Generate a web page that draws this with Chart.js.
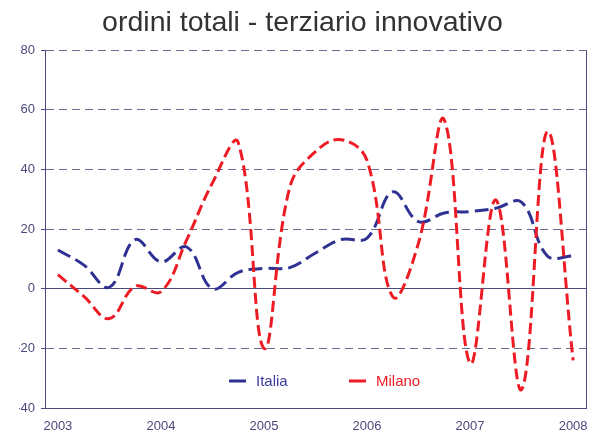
<!DOCTYPE html>
<html>
<head>
  <title>ordini totali - terziario innovativo</title>
  <meta charset="utf-8">
  <script src="https://cdn.jsdelivr.net/npm/chart.js"></script>
  <style>
    body { margin: 0; background: #fff; }
    #wrap { width: 601px; height: 432px; }
  </style>
</head>
<body>
  <div id="wrap"><canvas id="myChart" width="601" height="432"></canvas></div>
  <script>
    // quarterly data, 2003 T1 .. 2008 T1
    var quarters = [
      '2003 T1', '2003 T2', '2003 T3', '2003 T4',
      '2004 T1', '2004 T2', '2004 T3', '2004 T4',
      '2005 T1', '2005 T2', '2005 T3', '2005 T4',
      '2006 T1', '2006 T2', '2006 T3', '2006 T4',
      '2007 T1', '2007 T2', '2007 T3', '2007 T4',
      '2008 T1'
    ];
    var yearLabels = ['2003', '2004', '2005', '2006', '2007', '2008'];
    var italia = [13, 8, 0.5, 16.5, 9, 14, 0, 5.5, 6.8, 7.1, 12, 16.5, 17, 32.5, 22.5, 25.4, 25.9, 27, 29, 11, 11];
    var milano = [4.7, -2.5, -10, 0.8, -1, 16.4, 35.5, 49, -20, 34, 46, 50, 43, -2.7, 15.4, 56.6, -25, 29.8, -33.8, 52.7, -24];

    var axisColor = '#4b4a7c';
    var fontFam = '"Liberation Sans", Arial, Helvetica, sans-serif';

    // legend drawn inside the plot, near the bottom
    var legendInside = {
      id: 'legendInside',
      afterDatasetsDraw: function(chart) {
        var c = chart.ctx;
        var items = [{ ds: chart.data.datasets[0], x: 229 }, { ds: chart.data.datasets[1], x: 349 }];
        c.save();
        c.font = '15px ' + fontFam;
        c.textBaseline = 'middle';
        items.forEach(function(it) {
          c.strokeStyle = it.ds.borderColor;
          c.lineWidth = 3;
          c.setLineDash([]);
          c.beginPath();
          c.moveTo(it.x, 381);
          c.lineTo(it.x + 17, 381);
          c.stroke();
          c.fillStyle = it.ds.legendText;
          c.fillText(it.ds.label, it.x + 27, 382);
        });
        c.restore();
      }
    };

    // right border of the plot
    var rightBorder = {
      id: 'rightBorder',
      afterDraw: function(chart) {
        var a = chart.chartArea, c = chart.ctx;
        c.save();
        c.strokeStyle = axisColor;
        c.lineWidth = 1;
        c.beginPath();
        c.moveTo(a.right + 0.5, a.top);
        c.lineTo(a.right + 0.5, a.bottom);
        c.stroke();
        c.restore();
      }
    };

    var ctx = document.getElementById('myChart');
    var chart = new Chart(ctx, {
      type: 'line',
      data: {
        labels: quarters,
        datasets: [{
          label: 'Italia',
          data: italia,
          borderColor: '#2e3192',
          legendText: '#3b3d9a',
          borderWidth: 3,
          borderDash: [14, 6],
          pointRadius: 0,
          tension: 0.4,
          fill: false,
          order: 1
        }, {
          label: 'Milano',
          data: milano,
          borderColor: '#ed1c24',
          legendText: '#ed1c24',
          borderWidth: 3,
          borderDash: [11, 5],
          pointRadius: 0,
          tension: 0.4,
          fill: false,
          order: 0
        }]
      },
      options: {
        responsive: false,
        animation: false,
        layout: { padding: { top: 2, right: 15, left: 19, bottom: 0 } },
        plugins: {
          legend: { display: false },
          tooltip: { enabled: false },
          title: {
            display: true,
            text: 'ordini totali - terziario innovativo',
            color: '#333333',
            font: { family: fontFam, size: 28.5, weight: 'normal' },
            padding: { top: 4, bottom: 10 }
          }
        },
        scales: {
          x: {
            offset: true,
            grid: { display: false },
            border: { display: true, color: axisColor, width: 1 },
            ticks: {
              autoSkip: false,
              maxRotation: 0,
              color: axisColor,
              font: { family: fontFam, size: 13 },
              padding: 3,
              callback: function(v, i) {
                return i % 4 === 0 ? yearLabels[i / 4] : '';
              }
            },
            afterFit: function(s) { s.height = 24; }
          },
          y: {
            min: -40,
            max: 80,
            ticks: {
              stepSize: 20,
              color: axisColor,
              font: { family: fontFam, size: 13 },
              padding: 6
            },
            grid: {
              color: function(c) { return c.tick && c.tick.value === 0 ? axisColor : '#6a6a94'; },
              lineWidth: 1,
              tickLength: 4,
              tickColor: axisColor
            },
            border: {
              display: true,
              color: axisColor,
              dash: function(c) {
                return c.tick && (c.tick.value === 0 || c.tick.value === -40) ? [] : [8, 5];
              }
            },
            afterFit: function(s) { s.width = 26; }
          }
        }
      },
      plugins: [legendInside, rightBorder]
    });
  </script>
</body>
</html>
